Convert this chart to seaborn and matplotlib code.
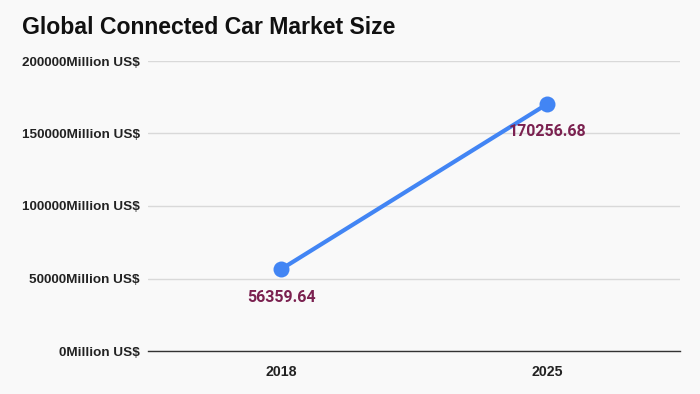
import numpy as np
import pandas as pd
import matplotlib.pyplot as plt
import seaborn as sns

years = ["2018", "2025"]
market_size = [56359.64, 170256.68]
y_ticks = [0, 50000, 100000, 150000, 200000]

df = pd.DataFrame({"pos": np.arange(len(years)), "size": market_size})

bg = "#f9f9f9"
sns.set_theme(style="white")
plt.rcParams["font.family"] = ["Liberation Sans", "DejaVu Sans"]

fig = plt.figure(figsize=(7, 3.94), dpi=100, facecolor=bg)
ax = fig.add_axes([148 / 700, 1 - 351 / 394, 532 / 700, 290 / 394])
ax.set_facecolor(bg)

sns.lineplot(data=df, x="pos", y="size", ax=ax, color="#4285f4", linewidth=3,
             marker="o", markersize=11.5, markeredgewidth=0)

# data labels below each point
for i, v in enumerate(market_size):
    ax.annotate(f"{v:.2f}", (i, v), xytext=(0, -20), textcoords="offset points",
                ha="center", va="center", color="#7b2150", fontsize=11.5,
                fontweight="bold", family=["Roboto", "DejaVu Sans"])

ax.set_xlim(-0.5, len(years) - 0.5)
ax.set_ylim(0, 200000)
ax.set_xticks(range(len(years)))
ax.set_xticklabels(years, fontsize=10.2, fontweight="bold", color="#222222")
ax.set_yticks(y_ticks)
ax.set_yticklabels([f"{t}Million US$" for t in y_ticks], fontsize=9.7,
                   fontweight="bold", color="#222222")
ax.tick_params(axis="x", length=0, pad=10)
ax.tick_params(axis="y", length=0, pad=6)
ax.set_xlabel("")
ax.set_ylabel("")

ax.grid(axis="y", color="#d9d9d9", linewidth=1)
ax.set_axisbelow(True)
for s in ["top", "right", "left"]:
    ax.spines[s].set_visible(False)
ax.spines["bottom"].set_color("#333333")
ax.spines["bottom"].set_linewidth(1)

fig.text(22 / 700, 1 - 27 / 394, "Global Connected Car Market Size", fontsize=16.6,
         fontweight="bold", color="#111111", ha="left", va="center")

fig.savefig("out.png", dpi=100, facecolor=bg)
